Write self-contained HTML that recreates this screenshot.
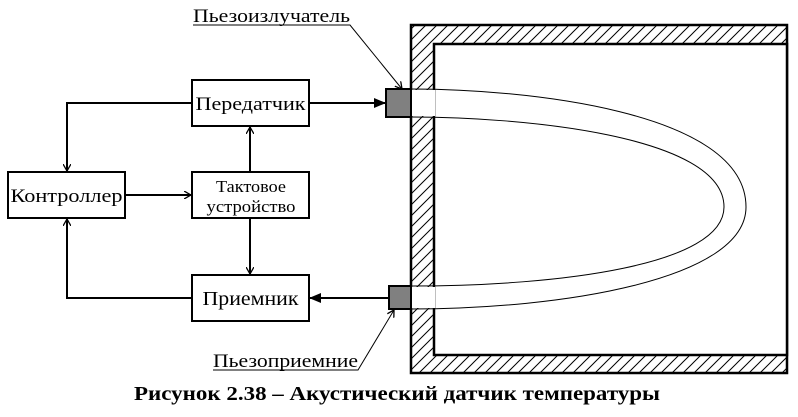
<!DOCTYPE html>
<html><head><meta charset="utf-8"><style>
html,body{margin:0;padding:0;background:#fff;}
svg{display:block;}
text{font-family:"Liberation Serif",serif;fill:#000;}
</style></head><body>
<svg width="798" height="417" viewBox="0 0 798 417" xmlns="http://www.w3.org/2000/svg">
<defs>
<pattern id="h" patternUnits="userSpaceOnUse" width="11" height="11">
<path d="M-2,13 L13,-2 M-2,2 L2,-2 M9,13 L13,9" stroke="#000" stroke-width="1"/>
</pattern>
<marker id="af" markerWidth="12" markerHeight="10" refX="12" refY="5" orient="auto" markerUnits="userSpaceOnUse">
<path d="M0,0 L12,5 L0,10 z" fill="#000"/>
</marker>
<marker id="ao" markerWidth="8" markerHeight="8" refX="7" refY="4" orient="auto" markerUnits="userSpaceOnUse">
<path d="M0,0 L7,4 L0,8" fill="none" stroke="#000" stroke-width="1.3"/>
</marker>
</defs>
<!-- chamber -->
<rect x="411" y="25" width="376" height="348" fill="url(#h)" stroke="#000" stroke-width="2.5"/>
<rect x="434" y="44" width="353" height="311" fill="#fff" stroke="#000" stroke-width="2.5"/>
<!-- beam openings through wall -->
<rect x="412" y="90" width="23" height="26" fill="#fff"/>
<rect x="412" y="287" width="23" height="21" fill="#fff"/>
<!-- beam -->
<path d="M411,89 C520,89 746,110 746,207 C746,280 560,309 411,309" fill="none" stroke="#000" stroke-width="1"/>
<path d="M411,117 C520,117 724,135 724,207 C724,265 560,286 411,286" fill="none" stroke="#000" stroke-width="1"/>
<!-- transducers -->
<rect x="386" y="89" width="25" height="28" fill="#808080" stroke="#000" stroke-width="2"/>
<rect x="389" y="286" width="22" height="23" fill="#808080" stroke="#000" stroke-width="2"/>
<!-- boxes -->
<g fill="#fff" stroke="#000" stroke-width="2">
<rect x="192" y="80" width="117" height="46"/>
<rect x="192" y="172" width="117" height="46"/>
<rect x="8" y="172" width="117" height="46"/>
<rect x="192" y="275" width="117" height="46"/>
</g>
<!-- connectors -->
<g stroke="#000" stroke-width="2" fill="none">
<path d="M192,103 L67,103 L67,171" marker-end="url(#ao)"/>
<path d="M125,195 L191,195" marker-end="url(#ao)"/>
<path d="M250,172 L250,127" marker-end="url(#ao)"/>
<path d="M250,218 L250,274" marker-end="url(#ao)"/>
<path d="M192,298 L67,298 L67,219" marker-end="url(#ao)"/>
<path d="M309,103 L386,103" marker-end="url(#af)"/>
<path d="M389,298 L309,298" marker-end="url(#af)"/>
</g>
<!-- leaders -->
<g stroke="#000" stroke-width="1" fill="none">
<path d="M193,25 L350,25 L402,89" marker-end="url(#ao)"/>
<path d="M213,370 L358,370 L394,310" marker-end="url(#ao)"/>
</g>
<!-- text -->
<text x="193" y="22" font-size="19" textLength="157" lengthAdjust="spacingAndGlyphs">Пьезоизлучатель</text>
<text x="213" y="367" font-size="19" textLength="145" lengthAdjust="spacingAndGlyphs">Пьезоприемние</text>
<text x="250.5" y="110" font-size="19" text-anchor="middle" textLength="110" lengthAdjust="spacingAndGlyphs">Передатчик</text>
<text x="66.5" y="202" font-size="19" text-anchor="middle" textLength="112" lengthAdjust="spacingAndGlyphs">Контроллер</text>
<text x="251" y="192" font-size="17" text-anchor="middle" textLength="70" lengthAdjust="spacingAndGlyphs">Тактовое</text>
<text x="251" y="212" font-size="17" text-anchor="middle" textLength="89" lengthAdjust="spacingAndGlyphs">устройство</text>
<text x="250.5" y="305" font-size="20" text-anchor="middle" textLength="96" lengthAdjust="spacingAndGlyphs">Приемник</text>
<text x="397" y="400" font-size="20" font-weight="bold" text-anchor="middle" textLength="526" lengthAdjust="spacingAndGlyphs">Рисунок 2.38 – Акустический датчик температуры</text>
</svg>
</body></html>
